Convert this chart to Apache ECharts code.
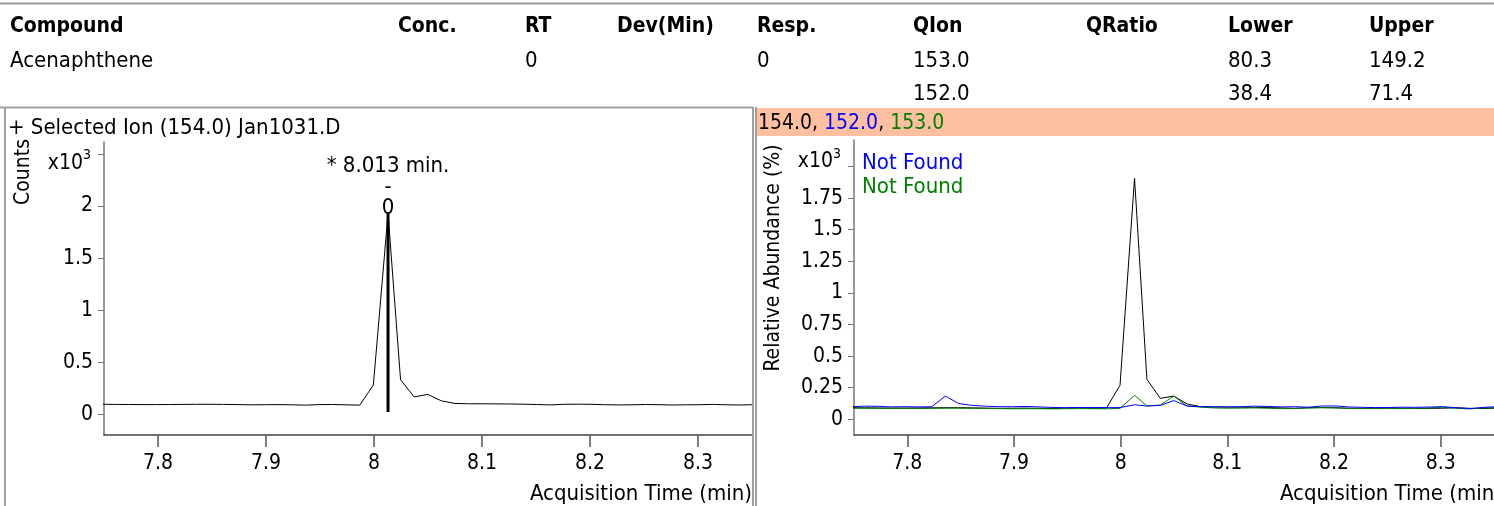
<!DOCTYPE html>
<html><head><meta charset="utf-8">
<script src="https://cdn.jsdelivr.net/npm/echarts@6/dist/echarts.min.js"></script>
<style>html,body{margin:0;padding:0;background:#fff}#c{width:1494px;height:506px}</style>
</head><body><div id="c"></div>
<script>
const FONT = '"DejaVu Sans Condensed","DejaVu Sans",sans-serif';

// ---- data ----
const tableHeader = ['Compound', 'Conc.', 'RT', 'Dev(Min)', 'Resp.', 'QIon', 'QRatio', 'Lower', 'Upper'];
const tableRow1 = ['Acenaphthene', '', '0', '', '0', '153.0', '', '80.3', '149.2'];
const tableRow2 = ['', '', '', '', '', '152.0', '', '38.4', '71.4'];

const times = [7.7474, 7.760, 7.7726, 7.7852, 7.7978, 7.8104, 7.823, 7.8356, 7.8482, 7.8608,
  7.8734, 7.886, 7.8986, 7.9112, 7.9238, 7.9364, 7.949, 7.9616, 7.9742, 7.9868,
  7.9994, 8.013, 8.0246, 8.0372, 8.0498, 8.0624, 8.075, 8.0876, 8.1002, 8.1128,
  8.1254, 8.138, 8.1506, 8.1632, 8.1758, 8.1884, 8.201, 8.2136, 8.2262, 8.2388,
  8.2514, 8.264, 8.2766, 8.2892, 8.3018, 8.3144, 8.327, 8.3396, 8.3522];

// counts, x10^3 (left panel, ion 154)
const ion154Counts = [0.095, 0.094, 0.093, 0.092, 0.092, 0.093, 0.094, 0.095, 0.095, 0.094,
  0.092, 0.090, 0.091, 0.092, 0.090, 0.087, 0.092, 0.093, 0.090, 0.087,
  0.28, 1.93, 0.33, 0.166, 0.19, 0.128, 0.103, 0.100, 0.100, 0.099,
  0.098, 0.096, 0.093, 0.089, 0.095, 0.096, 0.095, 0.091, 0.089, 0.090,
  0.093, 0.091, 0.088, 0.090, 0.091, 0.094, 0.090, 0.088, 0.092];

// right panel overlays (x10^3)
const ion154Overlay = [0.092, 0.091, 0.090, 0.089, 0.089, 0.090, 0.091, 0.092, 0.092, 0.091,
  0.089, 0.087, 0.088, 0.089, 0.087, 0.085, 0.089, 0.090, 0.087, 0.090,
  0.27, 1.907, 0.316, 0.166, 0.184, 0.121, 0.100, 0.097, 0.097, 0.096,
  0.095, 0.093, 0.090, 0.087, 0.092, 0.093, 0.092, 0.088, 0.087, 0.087,
  0.090, 0.088, 0.086, 0.087, 0.088, 0.091, 0.087, 0.085, 0.089];
const ion152Overlay = [0.100, 0.104, 0.103, 0.098, 0.100, 0.098, 0.100, 0.184, 0.125, 0.110,
  0.104, 0.100, 0.100, 0.102, 0.098, 0.094, 0.092, 0.094, 0.094, 0.092,
  0.093, 0.115, 0.105, 0.110, 0.148, 0.105, 0.100, 0.100, 0.098, 0.100,
  0.104, 0.102, 0.098, 0.100, 0.096, 0.105, 0.106, 0.098, 0.095, 0.093,
  0.094, 0.096, 0.095, 0.097, 0.100, 0.092, 0.085, 0.094, 0.100];
const ion153Overlay = [0.088, 0.088, 0.087, 0.086, 0.087, 0.086, 0.087, 0.088, 0.088, 0.087,
  0.086, 0.085, 0.083, 0.084, 0.084, 0.083, 0.084, 0.085, 0.084, 0.083,
  0.087, 0.190, 0.107, 0.113, 0.184, 0.105, 0.097, 0.090, 0.088, 0.089,
  0.090, 0.088, 0.084, 0.087, 0.089, 0.092, 0.090, 0.086, 0.085, 0.087,
  0.086, 0.085, 0.087, 0.089, 0.097, 0.088, 0.082, 0.090, 0.092];

const xTicks = [7.8, 7.9, 8, 8.1, 8.2, 8.3];
const yTicksLeft = [0, 0.5, 1, 1.5, 2, 2.5];
const yTicksRight = [0, 0.25, 0.5, 0.75, 1, 1.25, 1.5, 1.75, 2];
const unitLeft = 2.5;   // tick carrying the x10^3 multiplier
const unitRight = 2;
const peakRT = 8.013;
const peakTop = 1.93;
const peakBase = 0.02;
const peakText = ['* 8.013 min.', '-', '0'];

// ---- layout (pixels) ----
const colX = [10, 398, 525, 617, 757, 913, 1086, 1228, 1369];
const FS = 21;   // tick labels, header
const FT = 22;   // general text

const chart = echarts.init(document.getElementById('c'), null, {renderer: 'canvas'});

const g = [];
function txt(x, y, text, opts) {
  g.push(Object.assign({type: 'text', x: x, y: y, silent: true, z: 10,
    style: Object.assign({text: text, fontSize: FT, fontFamily: FONT, fill: '#000', verticalAlign: 'middle'}, (opts && opts.style) || {})},
    opts && opts.el || {}));
}
function line(x1, y1, x2, y2, color, w) {
  g.push({type: 'line', silent: true, z: 5, shape: {x1: x1, y1: y1, x2: x2, y2: y2}, style: {stroke: color, lineWidth: w || 1}});
}

// frames
line(0, 3.5, 1494, 3.5, '#9a9a9a', 2);
line(0, 107.5, 753, 107.5, '#a0a0a0', 2);
line(5, 107, 5, 506, '#a0a0a0', 2);
line(753, 107, 753, 506, '#a0a0a0', 2);
line(756, 107, 756, 506, '#a0a0a0', 2);
g.push({type: 'rect', silent: true, z: 4, shape: {x: 756, y: 108, width: 738, height: 28}, style: {fill: '#FEC0A0'}});

// table
tableHeader.forEach((t, i) => txt(colX[i], 27, t, {style: {fontWeight: 'bold', fontSize: FS}}));
tableRow1.forEach((t, i) => t && txt(colX[i], 61, t));
tableRow2.forEach((t, i) => t && txt(colX[i], 94, t));

// panel titles
txt(8, 128, '+ Selected Ion (154.0) Jan1031.D');
txt(758, 124, '{k|154.0, }{b|152.0}{k|, }{gr|153.0}', {style: {rich: {
  k: {fill: '#000', fontSize: FS, fontFamily: FONT},
  b: {fill: '#0000FF', fontSize: FS, fontFamily: FONT},
  gr: {fill: '#008000', fontSize: FS, fontFamily: FONT}}}});
txt(862, 163, 'Not Found', {style: {fill: '#0000FF'}});
txt(862, 187, 'Not Found', {style: {fill: '#008000'}});

// axis multiplier labels (x10^3)
txt(83, 164, 'x10', {style: {align: 'right', fontSize: FS}});
txt(83, 155, '3', {style: {align: 'left', fontSize: 14}});
txt(833, 161.5, 'x10', {style: {align: 'right', fontSize: FS}});
txt(833, 154, '3', {style: {align: 'left', fontSize: 14}});

// axis names
txt(24, 172, 'Counts', {style: {align: 'center', fontSize: FS}, el: {rotation: Math.PI / 2}});
txt(774, 258, 'Relative Abundance (%)', {style: {align: 'center', fontSize: FS}, el: {rotation: Math.PI / 2}});
txt(752, 494, 'Acquisition Time (min)', {style: {align: 'right'}});
txt(1502, 494, 'Acquisition Time (min)', {style: {align: 'right'}});

const axisGray = '#777';
function xAxis(gi) {
  return {
    type: 'value', gridIndex: gi, min: 7.75, max: 8.35,
    axisLine: {show: true, onZero: false, lineStyle: {color: '#444', width: 1.5}},
    axisTick: {show: true, length: 12, customValues: xTicks, lineStyle: {color: '#555', width: 1.5}},
    axisLabel: {customValues: xTicks, margin: 18, fontSize: FS, fontFamily: FONT, color: '#000',
      formatter: v => String(v)},
    splitLine: {show: false}
  };
}
function yAxis(gi, min, max, ticks, unitAt) {
  return {
    type: 'value', gridIndex: gi, min: min, max: max,
    axisLine: {show: true, onZero: false, lineStyle: {color: axisGray, width: 1.5}},
    axisTick: {show: true, length: 6, customValues: ticks, lineStyle: {color: axisGray}},
    axisLabel: {customValues: ticks, margin: 11, fontSize: FS, fontFamily: FONT, color: '#000',
      formatter: v => Math.abs(v - unitAt) < 1e-9 ? '' : String(v)},
    splitLine: {show: false}
  };
}

const option = {
  animation: false,
  backgroundColor: '#fff',
  grid: [
    {left: 104, top: 142, width: 648, height: 293},
    {left: 854, top: 140, width: 648, height: 295}
  ],
  xAxis: [xAxis(0), xAxis(1)],
  yAxis: [
    yAxis(0, -0.2, 2.615, yTicksLeft, unitLeft),
    yAxis(1, -0.124, 2.21, yTicksRight, unitRight)
  ],
  graphic: g,
  series: [
    {type: 'line', xAxisIndex: 0, yAxisIndex: 0, symbol: 'none', z: 2,
      lineStyle: {color: '#000', width: 1}, data: times.map((t, i) => [t, ion154Counts[i]])},
    {type: 'line', xAxisIndex: 0, yAxisIndex: 0, symbol: 'none', z: 3,
      lineStyle: {color: '#000', width: 3}, data: [[peakRT, peakBase], [peakRT, peakTop]]},
    {type: 'scatter', xAxisIndex: 0, yAxisIndex: 0, symbolSize: 0, z: 4,
      itemStyle: {opacity: 1, color: '#000'},
      data: [[peakRT, peakTop]],
      label: {show: true, position: 'top', distance: -6, color: '#000', opacity: 1,
        formatter: '{a|' + peakText[0] + '}\n{b|' + peakText[1] + '}\n{c|' + peakText[2] + '}',
        rich: {
          a: {fontSize: FT, fontFamily: FONT, color: '#000', lineHeight: 22, align: 'center'},
          b: {fontSize: FT, fontFamily: FONT, color: '#000', lineHeight: 19, align: 'center'},
          c: {fontSize: FT, fontFamily: FONT, color: '#000', lineHeight: 23, align: 'center'}
        }}},
    {type: 'line', xAxisIndex: 1, yAxisIndex: 1, symbol: 'none', z: 2,
      lineStyle: {color: '#000', width: 1}, data: times.map((t, i) => [t, ion154Overlay[i]])},
    {type: 'line', xAxisIndex: 1, yAxisIndex: 1, symbol: 'none', z: 3,
      lineStyle: {color: '#008000', width: 1}, data: times.map((t, i) => [t, ion153Overlay[i]])},
    {type: 'line', xAxisIndex: 1, yAxisIndex: 1, symbol: 'none', z: 4,
      lineStyle: {color: '#0000FF', width: 1}, data: times.map((t, i) => [t, ion152Overlay[i]])}
  ]
};
chart.setOption(option);
</script>
</body></html>
